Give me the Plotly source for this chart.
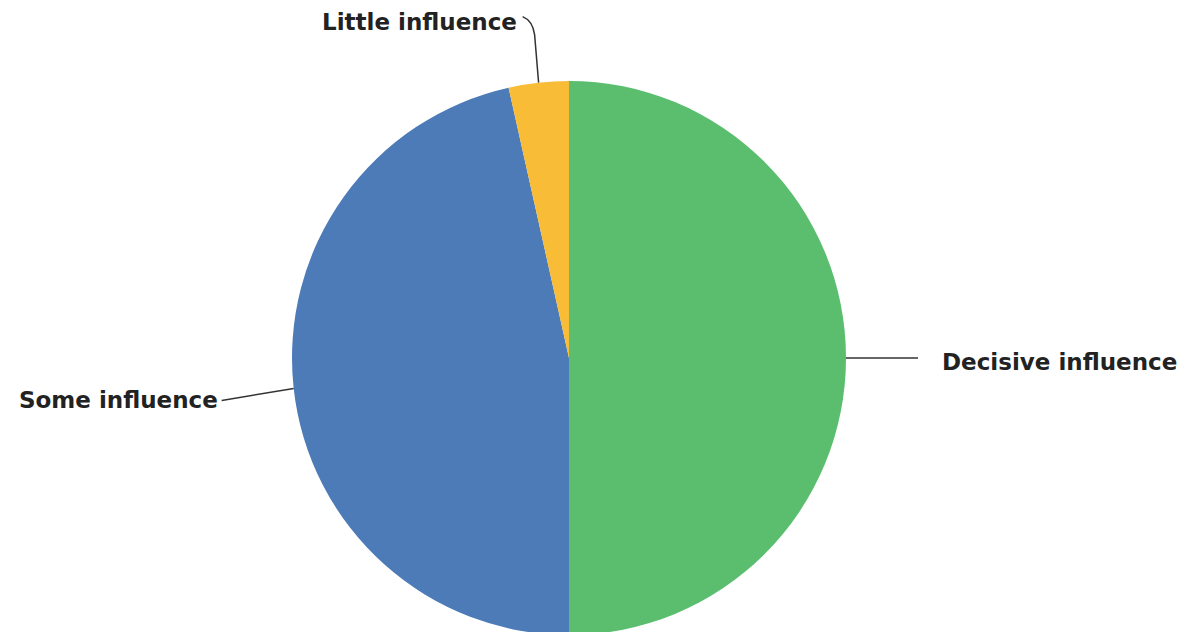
import math
import plotly.graph_objects as go

labels = ["Decisive influence", "Some influence", "Little influence"]
values = [50, 46.5, 3.5]
colors = ["#5BBE6F", "#4C7BB8", "#F8BC36"]

W, H = 1186, 632
OFF = 8  # page body margin
R = 277
CX = 569 - OFF
CY = 358 - OFF

dom = [(H - CY - R) / H, (H - CY + R) / H]
half_w = 0.3
cxp = CX / W

fig = go.Figure(go.Pie(
    labels=labels, values=values, sort=False, direction="clockwise", rotation=0,
    marker=dict(colors=colors, line=dict(width=0)),
    textinfo="none", hoverinfo="label+percent",
    domain=dict(x=[cxp - half_w, cxp + half_w], y=dom),
))

def px(x, y):
    return x / W, 1 - y / H

total = sum(values)
cum = 0
anchors = []
for v in values:
    mid = (cum + v / 2) / total * 2 * math.pi
    anchors.append((CX + R * math.sin(mid), CY - R * math.cos(mid)))
    cum += v

line_color = "#333333"
shapes = []
annos = []
font = dict(family="DejaVu Sans", size=23, color="#222222", weight="bold")

# Decisive
ax, ay = anchors[0]
x0, y0 = px(ax, ay); x1, y1 = px(ax + 72, ay)
shapes.append(dict(type="line", xref="paper", yref="paper", x0=x0, y0=y0, x1=x1, y1=y1,
                   line=dict(color=line_color, width=1.5)))
tx, ty = px(ax + 94, ay + 4)
annos.append(dict(text="<b>" + labels[0] + "</b>", x=tx, y=ty, xref="paper", yref="paper",
                  xanchor="left", yanchor="middle", showarrow=False, font=font))

# Some
ax, ay = anchors[1]
x0, y0 = px(ax, ay); x1, y1 = px(ax - 72, ay + 12)
shapes.append(dict(type="line", xref="paper", yref="paper", x0=x0, y0=y0, x1=x1, y1=y1,
                   line=dict(color=line_color, width=1.5)))
tx, ty = px(ax - 74, ay + 12)
annos.append(dict(text="<b>" + labels[1] + "</b>", x=tx, y=ty, xref="paper", yref="paper",
                  xanchor="right", yanchor="middle", showarrow=False, font=font))

# Little
ax, ay = anchors[2]
p0 = px(ax, ay); p1 = px(ax - 4, ay - 48); pc = px(ax - 6, ay - 62); p2 = px(ax - 16, ay - 66)
shapes.append(dict(type="path", xref="paper", yref="paper",
                   path=f"M {p0[0]},{p0[1]} L {p1[0]},{p1[1]} Q {pc[0]},{pc[1]} {p2[0]},{p2[1]}",
                   line=dict(color=line_color, width=1.5)))
tx, ty = px(ax - 20, ay - 61)
annos.append(dict(text="<b>" + labels[2] + "</b>", x=tx, y=ty, xref="paper", yref="paper",
                  xanchor="right", yanchor="middle", showarrow=False, font=font))

fig.update_layout(
    width=W, height=H, margin=dict(l=0, r=0, t=0, b=0),
    showlegend=False, paper_bgcolor="white", plot_bgcolor="white",
    shapes=shapes, annotations=annos,
)
fig.write_html("out.html")
